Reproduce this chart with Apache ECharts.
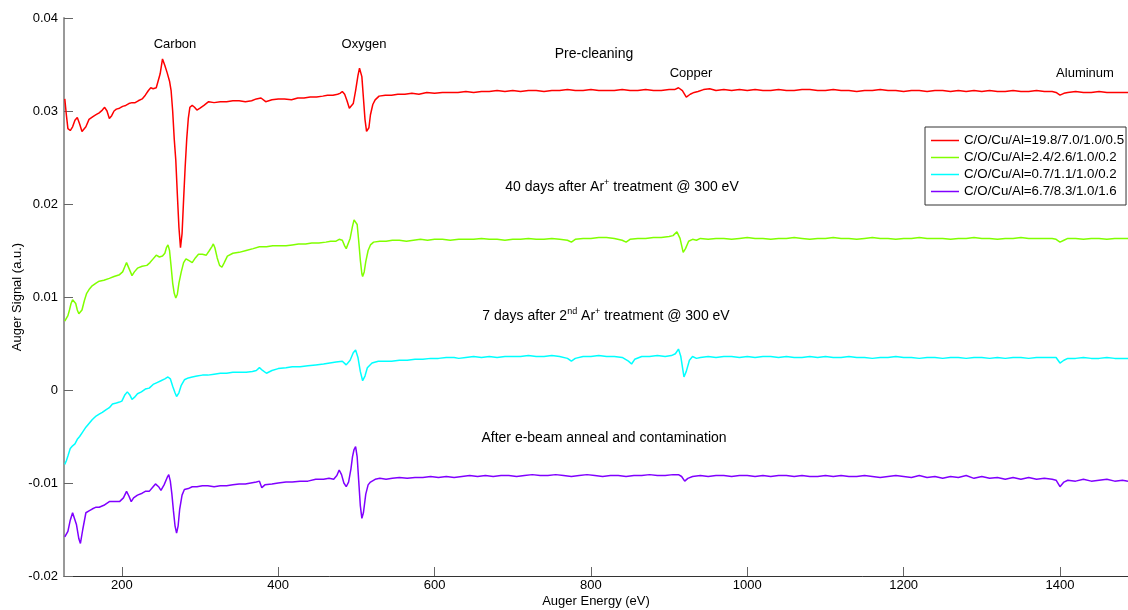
<!DOCTYPE html>
<html>
<head>
<meta charset="utf-8">
<script src="https://cdn.jsdelivr.net/npm/echarts@6/dist/echarts.min.js"></script>
<style>
  html, body { margin: 0; padding: 0; background: #fff; }
  #chart { width: 1128px; height: 610px; }
</style>
</head>
<body>
<div id="chart"></div>
<script>
// Auger spectra of the sample at four stages: [energy (eV), signal (a.u.)]
const legendNames = [
  'C/O/Cu/Al=19.8/7.0/1.0/0.5',
  'C/O/Cu/Al=2.4/2.6/1.0/0.2',
  'C/O/Cu/Al=0.7/1.1/1.0/0.2',
  'C/O/Cu/Al=6.7/8.3/1.0/1.6'
];

const xTicks = [200, 400, 600, 800, 1000, 1200, 1400];

const preCleaning = [
  [127,0.0313],[129,0.0296],[131,0.0281],[134,0.0279],[137,0.0283],[140,0.0290],[143,0.0293],[146,0.0286],
  [149,0.0278],[151,0.0276],[154,0.0283],[158,0.0291],[163,0.0294],[167,0.0296],[171,0.0298],[175,0.0301],
  [178,0.0304],[181,0.0300],[184,0.0292],[187,0.0295],[190,0.0300],[193,0.0302],[197,0.0303],[201,0.0305],
  [205,0.0306],[209,0.0308],[213,0.0309],[217,0.0309],[221,0.0311],[226,0.0313],[230,0.0317],[234,0.0322],
  [237,0.0325],[240,0.0324],[244,0.0325],[246,0.0327],[249,0.0340],[252,0.0356],[255,0.0349],[258,0.0341],
  [261,0.0332],[263,0.0322],[265,0.0300],[267,0.0270],[269,0.0247],[271,0.0210],[273,0.0175],[275,0.0153],
  [277,0.0168],[279,0.0205],[281,0.0240],[283,0.0270],[285,0.0292],[287,0.0304],[290,0.0306],[293,0.0304],
  [296,0.0301],[300,0.0303],[305,0.0306],[311,0.0310],[318,0.0309],[326,0.0310],[334,0.0310],[342,0.0311],
  [350,0.0311],[358,0.0310],[366,0.0311],[372,0.0313],[378,0.0314],[384,0.0310],[392,0.0312],[400,0.0313],
  [408,0.0313],[417,0.0312],[425,0.0314],[433,0.0314],[441,0.0315],[449,0.0315],[457,0.0316],[463,0.0317],
  [470,0.0317],[476,0.0318],[479,0.0319],[482,0.0321],[485,0.0318],[488,0.0311],[491,0.0303],[493,0.0301],
  [496,0.0308],[499,0.0322],[502,0.0338],[504,0.0346],[505,0.0348],[507,0.0337],[509,0.0314],[511,0.0291],
  [513,0.0278],[514,0.0276],[516,0.0282],[518,0.0296],[521,0.0307],[524,0.0312],[529,0.0316],[537,0.0317],
  [545,0.0317],[553,0.0318],[562,0.0318],[571,0.0319],[580,0.0318],[590,0.0320],[600,0.0319],[610,0.0320],
  [620,0.0320],[630,0.0320],[640,0.0321],[650,0.0320],[660,0.0321],[670,0.0321],[680,0.0322],[690,0.0321],
  [700,0.0322],[710,0.0321],[720,0.0322],[730,0.0322],[740,0.0321],[750,0.0322],[760,0.0322],[770,0.0323],
  [780,0.0322],[790,0.0322],[800,0.0323],[810,0.0322],[820,0.0322],[830,0.0322],[840,0.0323],[850,0.0322],
  [860,0.0322],[870,0.0323],[880,0.0322],[890,0.0322],[900,0.0323],[907,0.0323],[912,0.0325],[917,0.0322],
  [922,0.0315],[927,0.0318],[932,0.0320],[937,0.0321],[944,0.0323],[952,0.0324],[960,0.0322],[970,0.0323],
  [980,0.0322],[990,0.0323],[1000,0.0322],[1010,0.0323],[1020,0.0322],[1030,0.0322],[1040,0.0323],[1050,0.0322],
  [1060,0.0322],[1070,0.0323],[1080,0.0323],[1090,0.0322],[1100,0.0322],[1110,0.0323],[1120,0.0322],[1130,0.0322],
  [1140,0.0321],[1150,0.0322],[1160,0.0322],[1170,0.0323],[1180,0.0322],[1190,0.0322],[1200,0.0321],[1210,0.0322],
  [1220,0.0322],[1230,0.0321],[1240,0.0322],[1250,0.0322],[1260,0.0321],[1270,0.0322],[1280,0.0321],[1290,0.0322],
  [1300,0.0321],[1310,0.0322],[1320,0.0321],[1330,0.0321],[1340,0.0322],[1350,0.0321],[1360,0.0321],[1370,0.0322],
  [1380,0.0321],[1390,0.0321],[1395,0.0320],[1400,0.0317],[1405,0.0319],[1410,0.0320],[1420,0.0321],[1430,0.0320],
  [1440,0.0320],[1450,0.0321],[1460,0.0320],[1470,0.0320],[1480,0.0320],[1487,0.0320]
];

const after40Days = [
  [127,0.0074],[129,0.0076],[131,0.0080],[133,0.0086],[135,0.0093],[137,0.0097],[139,0.0097],[141,0.0093],
  [143,0.0086],[145,0.0082],[147,0.0081],[149,0.0086],[152,0.0096],[155,0.0104],[158,0.0108],[162,0.0112],
  [167,0.0115],[171,0.0117],[177,0.0118],[184,0.0120],[190,0.0122],[197,0.0124],[201,0.0127],[204,0.0133],
  [206,0.0137],[208,0.0135],[211,0.0127],[213,0.0123],[216,0.0127],[220,0.0131],[226,0.0133],[232,0.0134],
  [236,0.0137],[240,0.0141],[244,0.0145],[248,0.0143],[252,0.0144],[255,0.0147],[257,0.0153],[259,0.0156],
  [261,0.0150],[263,0.0133],[265,0.0115],[267,0.0104],[269,0.0099],[271,0.0103],[273,0.0115],[276,0.0127],
  [279,0.0137],[282,0.0141],[286,0.0139],[290,0.0137],[294,0.0142],[298,0.0146],[303,0.0146],[308,0.0145],
  [312,0.0150],[315,0.0154],[317,0.0157],[319,0.0153],[322,0.0142],[325,0.0134],[328,0.0132],[331,0.0137],
  [335,0.0144],[342,0.0147],[350,0.0148],[359,0.0150],[368,0.0152],[376,0.0154],[385,0.0154],[393,0.0155],
  [401,0.0155],[410,0.0155],[418,0.0156],[426,0.0157],[435,0.0157],[443,0.0158],[452,0.0158],[461,0.0159],
  [467,0.0160],[474,0.0160],[478,0.0162],[480,0.0164],[482,0.0161],[485,0.0155],[487,0.0152],[489,0.0154],
  [492,0.0163],[495,0.0176],[497,0.0183],[499,0.0185],[501,0.0178],[503,0.0160],[505,0.0140],[507,0.0125],
  [508,0.0122],[510,0.0127],[512,0.0138],[515,0.0150],[518,0.0156],[522,0.0159],[530,0.0160],[538,0.0160],
  [546,0.0161],[555,0.0161],[564,0.0160],[573,0.0161],[582,0.0162],[591,0.0161],[600,0.0162],[610,0.0162],
  [620,0.0161],[631,0.0162],[640,0.0162],[650,0.0162],[660,0.0163],[670,0.0162],[680,0.0162],[690,0.0161],
  [700,0.0162],[710,0.0162],[720,0.0163],[730,0.0162],[740,0.0162],[750,0.0163],[760,0.0162],[770,0.0161],
  [775,0.0159],[780,0.0162],[790,0.0163],[800,0.0163],[810,0.0164],[820,0.0164],[830,0.0163],[840,0.0161],
  [845,0.0159],[850,0.0162],[860,0.0163],[870,0.0163],[880,0.0164],[890,0.0164],[900,0.0165],[905,0.0166],
  [910,0.0170],[914,0.0163],[918,0.0148],[921,0.0152],[925,0.0160],[930,0.0162],[935,0.0161],[940,0.0163],
  [950,0.0162],[960,0.0163],[970,0.0163],[980,0.0162],[990,0.0163],[1000,0.0164],[1010,0.0163],[1020,0.0163],
  [1030,0.0162],[1040,0.0163],[1050,0.0163],[1060,0.0164],[1070,0.0163],[1080,0.0162],[1090,0.0163],[1100,0.0163],
  [1110,0.0164],[1120,0.0163],[1130,0.0163],[1140,0.0162],[1150,0.0163],[1160,0.0164],[1170,0.0163],[1180,0.0163],
  [1190,0.0162],[1200,0.0163],[1210,0.0163],[1220,0.0164],[1230,0.0163],[1240,0.0163],[1250,0.0163],[1260,0.0162],
  [1270,0.0163],[1280,0.0163],[1290,0.0164],[1300,0.0163],[1310,0.0163],[1320,0.0162],[1330,0.0163],[1340,0.0163],
  [1350,0.0164],[1360,0.0163],[1370,0.0163],[1380,0.0163],[1390,0.0163],[1395,0.0162],[1400,0.0159],[1405,0.0161],
  [1410,0.0163],[1420,0.0163],[1430,0.0162],[1440,0.0163],[1450,0.0163],[1460,0.0162],[1470,0.0163],[1480,0.0163],
  [1487,0.0163]
];

const after7Days = [
  [127,-0.0080],[129,-0.0076],[131,-0.0071],[134,-0.0063],[137,-0.0060],[140,-0.0058],[143,-0.0053],[146,-0.0050],
  [150,-0.0045],[154,-0.0040],[158,-0.0036],[162,-0.0032],[167,-0.0028],[171,-0.0026],[175,-0.0024],[180,-0.0021],
  [184,-0.0019],[188,-0.0015],[193,-0.0014],[197,-0.0013],[200,-0.0012],[204,-0.0005],[207,-0.0002],[210,-0.0005],
  [213,-0.0010],[216,-0.0008],[220,-0.0004],[225,-0.0002],[230,0.0001],[235,0.0002],[240,0.0006],[245,0.0008],
  [250,0.0010],[255,0.0012],[259,0.0014],[262,0.0012],[265,0.0004],[268,-0.0003],[270,-0.0007],[273,-0.0003],
  [276,0.0005],[280,0.0011],[285,0.0013],[290,0.0014],[296,0.0015],[303,0.0016],[310,0.0016],[318,0.0017],
  [326,0.0018],[334,0.0018],[342,0.0019],[350,0.0019],[359,0.0019],[367,0.0020],[372,0.0021],[376,0.0024],
  [380,0.0021],[385,0.0018],[392,0.0021],[400,0.0023],[410,0.0024],[418,0.0025],[428,0.0025],[438,0.0026],
  [448,0.0027],[458,0.0028],[466,0.0029],[474,0.0030],[482,0.0031],[487,0.0027],[492,0.0032],[496,0.0040],
  [499,0.0043],[502,0.0035],[505,0.0020],[508,0.0010],[511,0.0015],[514,0.0024],[520,0.0029],[528,0.0031],
  [536,0.0031],[545,0.0031],[555,0.0032],[565,0.0032],[575,0.0033],[585,0.0033],[595,0.0034],[605,0.0034],
  [615,0.0035],[625,0.0035],[631,0.0034],[640,0.0035],[650,0.0036],[660,0.0035],[670,0.0036],[680,0.0035],
  [690,0.0036],[700,0.0036],[710,0.0036],[720,0.0037],[730,0.0036],[740,0.0036],[750,0.0037],[760,0.0036],
  [770,0.0034],[775,0.0031],[780,0.0034],[790,0.0036],[800,0.0036],[810,0.0037],[820,0.0036],[830,0.0036],
  [840,0.0035],[848,0.0031],[852,0.0028],[856,0.0033],[865,0.0036],[875,0.0036],[885,0.0037],[895,0.0036],
  [903,0.0037],[908,0.0039],[912,0.0044],[915,0.0036],[919,0.0014],[922,0.0020],[926,0.0032],[930,0.0036],
  [935,0.0034],[940,0.0035],[950,0.0036],[960,0.0035],[970,0.0036],[980,0.0036],[990,0.0035],[1000,0.0036],
  [1010,0.0035],[1020,0.0036],[1030,0.0036],[1040,0.0035],[1050,0.0036],[1060,0.0035],[1070,0.0035],[1080,0.0036],
  [1090,0.0035],[1100,0.0036],[1110,0.0035],[1120,0.0035],[1130,0.0036],[1140,0.0035],[1150,0.0035],[1160,0.0034],
  [1170,0.0035],[1180,0.0035],[1190,0.0036],[1200,0.0035],[1210,0.0035],[1220,0.0034],[1230,0.0035],[1240,0.0035],
  [1250,0.0034],[1260,0.0035],[1270,0.0035],[1280,0.0034],[1290,0.0035],[1300,0.0035],[1310,0.0034],[1320,0.0035],
  [1330,0.0034],[1340,0.0035],[1350,0.0035],[1360,0.0034],[1370,0.0035],[1380,0.0035],[1390,0.0035],[1395,0.0035],
  [1400,0.0029],[1405,0.0032],[1410,0.0034],[1420,0.0034],[1430,0.0035],[1440,0.0034],[1450,0.0034],[1460,0.0035],
  [1470,0.0034],[1480,0.0034],[1487,0.0034]
];

const afterAnneal = [
  [127,-0.0158],[129,-0.0156],[131,-0.0152],[134,-0.0140],[137,-0.0132],[139,-0.0131],[142,-0.0145],[145,-0.0160],
  [147,-0.0165],[150,-0.0150],[154,-0.0132],[158,-0.0130],[162,-0.0128],[167,-0.0126],[171,-0.0126],[177,-0.0124],
  [184,-0.0120],[190,-0.0120],[197,-0.0120],[202,-0.0116],[206,-0.0109],[209,-0.0114],[212,-0.0120],[215,-0.0116],
  [220,-0.0113],[226,-0.0111],[230,-0.0109],[235,-0.0109],[240,-0.0104],[243,-0.0101],[247,-0.0104],[250,-0.0108],
  [254,-0.0102],[258,-0.0094],[260,-0.0091],[262,-0.0098],[264,-0.0112],[266,-0.0130],[268,-0.0146],[270,-0.0154],
  [272,-0.0146],[274,-0.0128],[277,-0.0113],[280,-0.0107],[285,-0.0106],[290,-0.0104],[296,-0.0104],[303,-0.0103],
  [310,-0.0103],[318,-0.0104],[326,-0.0103],[334,-0.0103],[342,-0.0102],[350,-0.0101],[358,-0.0101],[365,-0.0100],
  [372,-0.0099],[376,-0.0098],[379,-0.0105],[383,-0.0102],[392,-0.0101],[400,-0.0100],[410,-0.0099],[418,-0.0099],
  [428,-0.0098],[438,-0.0098],[448,-0.0096],[458,-0.0096],[465,-0.0095],[471,-0.0096],[475,-0.0092],[478,-0.0086],
  [481,-0.0091],[484,-0.0100],[487,-0.0104],[490,-0.0099],[493,-0.0085],[495,-0.0072],[497,-0.0064],[499,-0.0061],
  [501,-0.0072],[503,-0.0098],[505,-0.0124],[507,-0.0138],[509,-0.0132],[512,-0.0112],[515,-0.0102],[518,-0.0099],
  [524,-0.0096],[530,-0.0095],[538,-0.0096],[546,-0.0095],[555,-0.0094],[565,-0.0095],[575,-0.0094],[585,-0.0094],
  [595,-0.0093],[605,-0.0094],[615,-0.0093],[625,-0.0094],[635,-0.0093],[645,-0.0092],[655,-0.0093],[665,-0.0092],
  [675,-0.0093],[685,-0.0092],[695,-0.0092],[705,-0.0093],[715,-0.0092],[725,-0.0091],[735,-0.0092],[745,-0.0092],
  [755,-0.0091],[765,-0.0092],[775,-0.0093],[785,-0.0092],[795,-0.0091],[805,-0.0092],[815,-0.0093],[825,-0.0092],
  [835,-0.0092],[845,-0.0093],[855,-0.0092],[865,-0.0092],[875,-0.0091],[885,-0.0092],[895,-0.0092],[905,-0.0091],
  [912,-0.0091],[916,-0.0093],[920,-0.0098],[924,-0.0095],[930,-0.0093],[940,-0.0092],[950,-0.0093],[960,-0.0092],
  [970,-0.0092],[980,-0.0093],[990,-0.0092],[1000,-0.0092],[1010,-0.0093],[1020,-0.0092],[1030,-0.0093],[1040,-0.0092],
  [1050,-0.0092],[1060,-0.0093],[1070,-0.0092],[1080,-0.0093],[1090,-0.0093],[1100,-0.0092],[1110,-0.0093],[1120,-0.0092],
  [1130,-0.0093],[1140,-0.0093],[1150,-0.0092],[1160,-0.0093],[1170,-0.0094],[1180,-0.0093],[1190,-0.0092],[1200,-0.0093],
  [1210,-0.0094],[1220,-0.0092],[1230,-0.0094],[1240,-0.0093],[1250,-0.0095],[1260,-0.0093],[1270,-0.0094],[1280,-0.0092],
  [1290,-0.0095],[1300,-0.0093],[1310,-0.0095],[1320,-0.0094],[1330,-0.0096],[1340,-0.0094],[1350,-0.0096],[1360,-0.0094],
  [1370,-0.0096],[1380,-0.0095],[1390,-0.0096],[1395,-0.0097],[1400,-0.0104],[1405,-0.0099],[1410,-0.0097],[1420,-0.0098],
  [1430,-0.0096],[1440,-0.0098],[1450,-0.0097],[1460,-0.0096],[1470,-0.0098],[1480,-0.0097],[1487,-0.0098]
];

const FONT = '"Liberation Sans", Arial, sans-serif';
const colors = ['#ff0000', '#80ff00', '#00ffff', '#8000ff'];
const spectra = [preCleaning, after40Days, after7Days, afterAnneal];

// Peak names and stage captions placed over the plot area
const captions = [
  { text: 'Carbon', x: 175, y: 44, size: 13 },
  { text: 'Oxygen', x: 364, y: 44, size: 13 },
  { text: 'Pre-cleaning', x: 594, y: 54, size: 14 },
  { text: 'Copper', x: 691, y: 73, size: 13 },
  { text: 'Aluminum', x: 1085, y: 73, size: 13 },
  { text: '{a|40 days after Ar}{s|+}{a| treatment @ 300 eV}', x: 622, y: 187, size: 14 },
  { text: '{a|7 days after 2}{s|nd}{a| Ar}{s|+}{a| treatment @ 300 eV}', x: 606, y: 316, size: 14 },
  { text: 'After e-beam anneal and contamination', x: 604, y: 438, size: 14 }
];

const chart = echarts.init(document.getElementById('chart'), null, { renderer: 'canvas' });

chart.setOption({
  animation: false,
  backgroundColor: '#ffffff',
  grid: { left: 64, right: 0, top: 18, bottom: 34, containLabel: false, outerBoundsMode: 'none' },
  xAxis: {
    type: 'value',
    min: 126,
    max: 1487,
    name: 'Auger Energy (eV)',
    nameLocation: 'middle',
    nameGap: 19,
    nameMoveOverlap: false,
    nameTextStyle: { fontFamily: FONT, fontSize: 13, color: '#000' },
    axisLine: { show: true, onZero: false, lineStyle: { color: '#333', width: 1 } },
    axisTick: { show: true, inside: true, length: 9, customValues: xTicks, lineStyle: { color: '#666', width: 1 } },
    axisLabel: {
      customValues: xTicks, fontFamily: FONT, fontSize: 13, color: '#000', margin: 3,
      formatter: v => String(v)
    },
    splitLine: { show: false }
  },
  yAxis: {
    type: 'value',
    min: -0.02,
    max: 0.04,
    interval: 0.01,
    name: 'Auger Signal (a.u.)',
    nameLocation: 'middle',
    nameRotate: 90,
    nameGap: 40,
    nameMoveOverlap: false,
    nameTextStyle: { fontFamily: FONT, fontSize: 13, color: '#000' },
    axisLine: { show: true, onZero: false, lineStyle: { color: '#999', width: 2 } },
    axisTick: { show: true, inside: true, length: 9, lineStyle: { color: '#666', width: 1 } },
    axisLabel: {
      fontFamily: FONT, fontSize: 13, color: '#000', margin: 6,
      formatter: v => String(+v.toFixed(2))
    },
    splitLine: { show: false }
  },
  legend: {
    orient: 'vertical',
    left: 925,
    top: 127,
    icon: 'rect',
    itemWidth: 28,
    itemHeight: 1.5,
    itemGap: 2,
    padding: [6, 2, 6, 6],
    borderColor: '#333',
    borderWidth: 1,
    borderRadius: 0,
    backgroundColor: '#ffffff',
    textStyle: { fontFamily: FONT, fontSize: 13.3, color: '#000', lineHeight: 15 },
    data: legendNames
  },
  series: spectra.map((d, i) => ({
    name: legendNames[i],
    type: 'line',
    data: d,
    symbol: 'none',
    showSymbol: false,
    clip: true,
    lineStyle: { color: colors[i], width: 1.5 },
    itemStyle: { color: colors[i] },
    z: 2
  })),
  graphic: captions.map(c => ({
    type: 'text',
    x: c.x,
    y: c.y,
    z: 10,
    style: {
      text: c.text,
      align: 'center',
      verticalAlign: 'middle',
      fill: '#000',
      fontFamily: FONT,
      fontSize: c.size,
      rich: {
        a: { fontFamily: FONT, fontSize: c.size, fill: '#000', lineHeight: 18 },
        s: { fontFamily: FONT, fontSize: 9, fill: '#000', verticalAlign: 'top', lineHeight: 18 }
      }
    }
  }))
});
</script>
</body>
</html>
